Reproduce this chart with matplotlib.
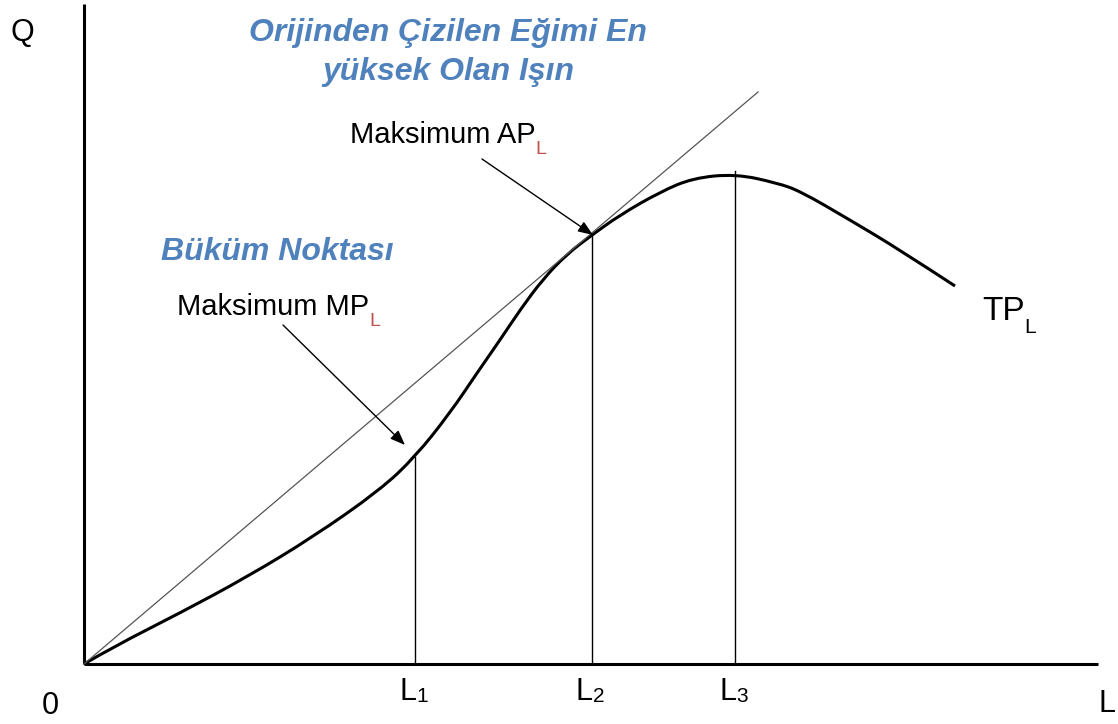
import matplotlib
matplotlib.use("Agg")
import matplotlib.pyplot as plt
from matplotlib.path import Path
from matplotlib.patches import PathPatch

# total product curve (L, Q)
tp_L = [0, 29, 96, 163, 229, 296, 331, 366, 393, 416, 436, 459, 483, 508,
        536, 576, 609, 652, 693, 716, 766, 816, 871]
tp_Q = [0, 17, 51, 87, 127, 174, 207, 251, 291, 324, 354, 385, 410, 429,
        449, 472, 486, 490, 481, 473, 444, 414, 378]

# ray from the origin
ray_L = [0, 674]
ray_Q = [0, 572]

# marked labour levels and heights of their guide lines
levels = [331, 508, 651]
level_tops = [207, 429, 493]
level_names = ["1", "2", "3"]

# arrows (start -> end)
mp_arrow = [(199, 339), (321, 219)]
ap_arrow = [(398, 505), (509, 429)]

axis_end_L = 1014
axis_end_Q = 660

BLUE = "#4F81BD"
RED = "#C0504D"
FONT = ["Liberation Sans", "DejaVu Sans"]


def smooth_path(xs, ys):
    # quadratic B-spline style path: read points act as control points
    pts = list(zip(xs, ys))
    verts = [pts[0]]
    codes = [Path.MOVETO]
    for i in range(1, len(pts) - 1):
        if i == len(pts) - 2:
            end = pts[-1]
        else:
            end = ((pts[i][0] + pts[i + 1][0]) / 2, (pts[i][1] + pts[i + 1][1]) / 2)
        verts += [pts[i], end]
        codes += [Path.CURVE3, Path.CURVE3]
    return Path(verts, codes)


fig = plt.figure(figsize=(11.18, 7.24), dpi=100)
ax = fig.add_axes([0, 0, 1, 1])
ax.set_xlim(-84, 1034)
ax.set_ylim(-60, 664)
ax.axis("off")

# axes
ax.plot([0, 0], [0, axis_end_Q], color="black", lw=2.2, solid_capstyle="butt")
ax.plot([0, axis_end_L], [0, 0], color="black", lw=2.2, solid_capstyle="butt")

# ray and curve
ax.plot(ray_L, ray_Q, color="#555555", lw=0.9)
ax.add_patch(PathPatch(smooth_path(tp_L, tp_Q), facecolor="none",
                       edgecolor="black", lw=2.2, capstyle="butt"))

for x, top, name in zip(levels, level_tops, level_names):
    ax.plot([x, x], [0, top], color="black", lw=1.0)
    t = ax.text(x + 1, -28, "L", fontsize=22, family=FONT, ha="right", va="center")
    ax.annotate(name, xy=(1.0, 0.02), xycoords=t, fontsize=15, family=FONT,
                ha="left", va="bottom")

for a in (mp_arrow, ap_arrow):
    ax.annotate("", xy=a[1], xytext=a[0],
                arrowprops=dict(arrowstyle="-|>,head_length=0.9,head_width=0.35",
                                color="black", lw=1.0, shrinkA=0, shrinkB=0))

# axis labels
ax.text(-62, 631, "Q", fontsize=22, family=FONT, ha="center", va="center")
ax.text(-34, -42, "0", fontsize=22, family=FONT, ha="center", va="center")
ax.text(1023, -40, "L", fontsize=22, family=FONT, ha="center", va="center")

# titles
ax.text(364, 631, "Orijinden Çizilen Eğimi En", fontsize=23, family=FONT,
        color=BLUE, fontweight="bold", style="italic", ha="center", va="center")
ax.text(364, 592, "yüksek Olan Işın", fontsize=23, family=FONT,
        color=BLUE, fontweight="bold", style="italic", ha="center", va="center")
ax.text(193, 412, "Büküm Noktası", fontsize=23, family=FONT,
        color=BLUE, fontweight="bold", style="italic", ha="center", va="center")

# annotations with subscripts
t = ax.text(93, 357, "Maksimum MP", fontsize=21, family=FONT, ha="left", va="center")
ax.annotate("L", xy=(1.0, 0.0), xycoords=t, fontsize=14, family=FONT,
            color=RED, ha="left", va="center")
t = ax.text(266, 529, "Maksimum AP", fontsize=21, family=FONT, ha="left", va="center")
ax.annotate("L", xy=(1.0, 0.0), xycoords=t, fontsize=14, family=FONT,
            color=RED, ha="left", va="center")
t = ax.text(898, 352, "TP", fontsize=24, family=FONT, ha="left", va="center")
ax.annotate("L", xy=(1.0, 0.0), xycoords=t, fontsize=15, family=FONT,
            ha="left", va="center")

fig.savefig("out.png", dpi=100)
